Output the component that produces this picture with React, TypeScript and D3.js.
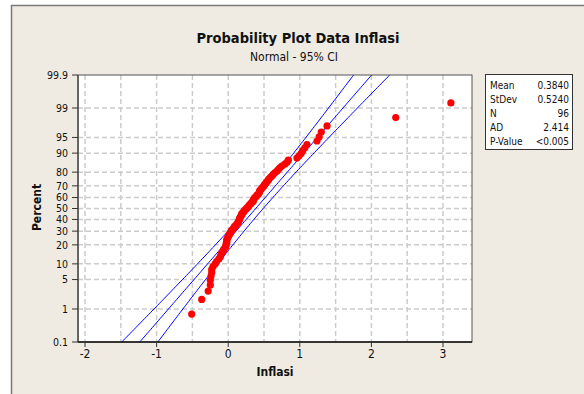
import * as d3 from 'd3';
import React, { useEffect, useRef } from 'react';

// sorted inflation values (rank order)
const inflasi = [
  -0.51, -0.37, -0.28, -0.25, -0.25, -0.24, -0.23, -0.23, -0.21, -0.18,
  -0.16, -0.13, -0.11, -0.10, -0.09, -0.07, -0.06, -0.04, -0.03, -0.03,
  -0.02, -0.02, -0.02, -0.01, 0.00, 0.01, 0.02, 0.03, 0.04, 0.05,
  0.07, 0.08, 0.09, 0.11, 0.12, 0.14, 0.14, 0.15, 0.16, 0.16,
  0.17, 0.18, 0.19, 0.19, 0.21, 0.22, 0.23, 0.25, 0.26, 0.28,
  0.29, 0.30, 0.32, 0.33, 0.35, 0.35, 0.36, 0.37, 0.39, 0.40,
  0.42, 0.43, 0.44, 0.44, 0.46, 0.47, 0.49, 0.50, 0.51, 0.53,
  0.54, 0.56, 0.57, 0.59, 0.61, 0.63, 0.65, 0.68, 0.70, 0.72,
  0.75, 0.79, 0.82, 0.84, 0.96, 0.99, 1.02, 1.04, 1.07, 1.10,
  1.24, 1.27, 1.30, 1.38, 2.34, 3.11,
];

const percentTicks = [0.1, 1, 5, 10, 20, 30, 40, 50, 60, 70, 80, 90, 95, 99, 99.9];
const xTicks = [-2, -1, 0, 1, 2, 3];
const xGrid = [-2, -1.5, -1, -0.5, 0, 0.5, 1, 1.5, 2, 2.5, 3];

const statLabels = ["Mean", "StDev", "N", "AD", "P-Value"];
const statValues = ["0.3840", "0.5240", "96", "2.414", "<0.005"];

const mean = 0.384;
const stdev = 0.524;
const n = 96;

// inverse standard normal cdf (Acklam)
function probit(p: number) {
  const a = [-39.69683028665376, 220.9460984245205, -275.9285104469687, 138.357751867269, -30.66479806614716, 2.506628277459239];
  const b = [-54.47609879822406, 161.5858368580409, -155.6989798598866, 66.80131188771972, -13.28068155288572];
  const c = [-0.007784894002430293, -0.3223964580411365, -2.400758277161838, -2.549732539343734, 4.374664141464968, 2.938163982698783];
  const d = [0.007784695709041462, 0.3224671290700398, 2.445134137142996, 3.754408661907416];
  const pl = 0.02425;
  if (p < pl) {
    const q = Math.sqrt(-2 * Math.log(p));
    return (((((c[0] * q + c[1]) * q + c[2]) * q + c[3]) * q + c[4]) * q + c[5]) / ((((d[0] * q + d[1]) * q + d[2]) * q + d[3]) * q + 1);
  }
  if (p > 1 - pl) {
    const q = Math.sqrt(-2 * Math.log(1 - p));
    return -(((((c[0] * q + c[1]) * q + c[2]) * q + c[3]) * q + c[4]) * q + c[5]) / ((((d[0] * q + d[1]) * q + d[2]) * q + d[3]) * q + 1);
  }
  const q = p - 0.5;
  const r = q * q;
  return (((((a[0] * r + a[1]) * r + a[2]) * r + a[3]) * r + a[4]) * r + a[5]) * q / (((((b[0] * r + b[1]) * r + b[2]) * r + b[3]) * r + b[4]) * r + 1);
}

const font = "Tahoma, 'DejaVu Sans Condensed', 'DejaVu Sans', sans-serif";

const ProbPlot: React.FC = () => {
  const ref = useRef<SVGSVGElement>(null);

  useEffect(() => {
    if (!ref.current) return;
    const svg = d3.select(ref.current);
    svg.selectAll("*").remove();

    const W = 584, H = 394;
    const plot = { left: 78, right: 472, top: 75, bottom: 342 };

    // background + frame
    svg.append("rect").attr("width", W).attr("height", H).attr("fill", "#fff");
    svg.append("rect")
      .attr("x", 11.5).attr("y", 5.5).attr("width", W).attr("height", H)
      .attr("fill", "#EFEBE2").attr("stroke", "#7a7a7a").attr("stroke-width", 1.5);

    const x = d3.scaleLinear().domain([-2.098, 3.405]).range([plot.left, plot.right]);
    const zMax = probit(0.999);
    const y = d3.scaleLinear().domain([-zMax, zMax]).range([plot.bottom, plot.top]);
    const yp = (p: number) => y(probit(p / 100));

    svg.append("rect")
      .attr("x", plot.left).attr("y", plot.top)
      .attr("width", plot.right - plot.left).attr("height", plot.bottom - plot.top)
      .attr("fill", "#fff");

    // grid
    const grid = svg.append("g")
      .attr("stroke", "#cccccc").attr("stroke-width", 1.5).attr("stroke-dasharray", "5,3");
    grid.selectAll(".vg").data(xGrid).enter().append("line")
      .attr("x1", d => x(d)).attr("x2", d => x(d))
      .attr("y1", plot.top).attr("y2", plot.bottom);
    grid.selectAll(".hg").data(percentTicks.slice(1, -1)).enter().append("line")
      .attr("x1", plot.left).attr("x2", plot.right)
      .attr("y1", d => yp(d)).attr("y2", d => yp(d));

    // fit line and 95% CI
    const clipId = "plotclip";
    svg.append("clipPath").attr("id", clipId).append("rect")
      .attr("x", plot.left).attr("y", plot.top)
      .attr("width", plot.right - plot.left).attr("height", plot.bottom - plot.top);
    const zs = d3.range(-3.2, 3.21, 0.05);
    const zc = 1.959964;
    const band = (k: number) => zs.map(z => {
      const se = stdev * Math.sqrt(1 / n + (z * z) / (2 * n));
      return [x(mean + stdev * z + k * zc * se), y(z)] as [number, number];
    });
    const line = d3.line();
    const lines = svg.append("g").attr("clip-path", `url(#${clipId})`);
    [-1, 0, 1].forEach(k => {
      lines.append("path").attr("d", line(band(k)) as string)
        .attr("fill", "none").attr("stroke", "#0000FF").attr("stroke-width", 1);
    });

    // points at median ranks
    svg.append("g").selectAll("circle").data(inflasi).enter().append("circle")
      .attr("cx", d => x(d))
      .attr("cy", (_, i) => y(probit((i + 1 - 0.3) / (n + 0.4))))
      .attr("r", 3.6)
      .attr("fill", "#FF0000");

    // plot border
    svg.append("rect")
      .attr("x", plot.left).attr("y", plot.top)
      .attr("width", plot.right - plot.left).attr("height", plot.bottom - plot.top)
      .attr("fill", "none").attr("stroke", "#555").attr("stroke-width", 1);
    svg.append("line").attr("x1", plot.left).attr("x2", plot.left)
      .attr("y1", plot.top).attr("y2", plot.bottom).attr("stroke", "#666").attr("stroke-width", 2);
    svg.append("line").attr("x1", plot.left).attr("x2", plot.right)
      .attr("y1", plot.bottom).attr("y2", plot.bottom).attr("stroke", "#111").attr("stroke-width", 1.5);

    // Y axis
    const yAxis = svg.append("g");
    percentTicks.forEach(p => {
      yAxis.append("line").attr("x1", plot.left - 6).attr("x2", plot.left)
        .attr("y1", yp(p)).attr("y2", yp(p)).attr("stroke", "#333");
      yAxis.append("text").attr("x", plot.left - 10).attr("y", yp(p))
        .attr("dy", "0.35em").attr("text-anchor", "end")
        .style("font", `10.5px ${font}`).attr("fill", "#111")
        .text(String(p));
    });

    // X axis
    const xAxis = svg.append("g");
    xTicks.forEach(t => {
      xAxis.append("line").attr("x1", x(t)).attr("x2", x(t))
        .attr("y1", plot.bottom).attr("y2", plot.bottom + 5).attr("stroke", "#333");
      xAxis.append("text").attr("x", x(t)).attr("y", 358)
        .attr("text-anchor", "middle")
        .style("font", `12px ${font}`).attr("fill", "#111")
        .text(String(t));
    });

    // titles
    svg.append("text").attr("x", 298).attr("y", 43).attr("text-anchor", "middle")
      .style("font", `bold 14.5px ${font}`).attr("fill", "#111")
      .text("Probability Plot Data Inflasi");
    svg.append("text").attr("x", 294).attr("y", 61).attr("text-anchor", "middle")
      .style("font", `12px ${font}`).attr("fill", "#111")
      .text("Normal - 95% CI");
    svg.append("text").attr("x", (plot.left + plot.right) / 2).attr("y", 376)
      .attr("text-anchor", "middle")
      .style("font", `bold 12px ${font}`).attr("fill", "#111")
      .text("Inflasi");
    svg.append("text")
      .attr("transform", `translate(41,207.5) rotate(-90)`)
      .attr("text-anchor", "middle")
      .style("font", `bold 12px ${font}`).attr("fill", "#111")
      .text("Percent");

    // stats box
    svg.append("rect").attr("x", 485.5).attr("y", 74.5).attr("width", 87).attr("height", 75)
      .attr("fill", "#fff").attr("stroke", "#333");
    statLabels.forEach((s, i) => {
      svg.append("text").attr("x", 490).attr("y", 89 + i * 14)
        .style("font", `10px ${font}`).attr("fill", "#111").text(s);
      svg.append("text").attr("x", 569).attr("y", 89 + i * 14).attr("text-anchor", "end")
        .style("font", `10px ${font}`).attr("fill", "#111").text(statValues[i]);
    });
  }, []);

  return <svg ref={ref} width={584} height={394} style={{ position: "absolute", left: 0, top: 0 }}></svg>;
};

export default function App() {
  return <ProbPlot />;
}
